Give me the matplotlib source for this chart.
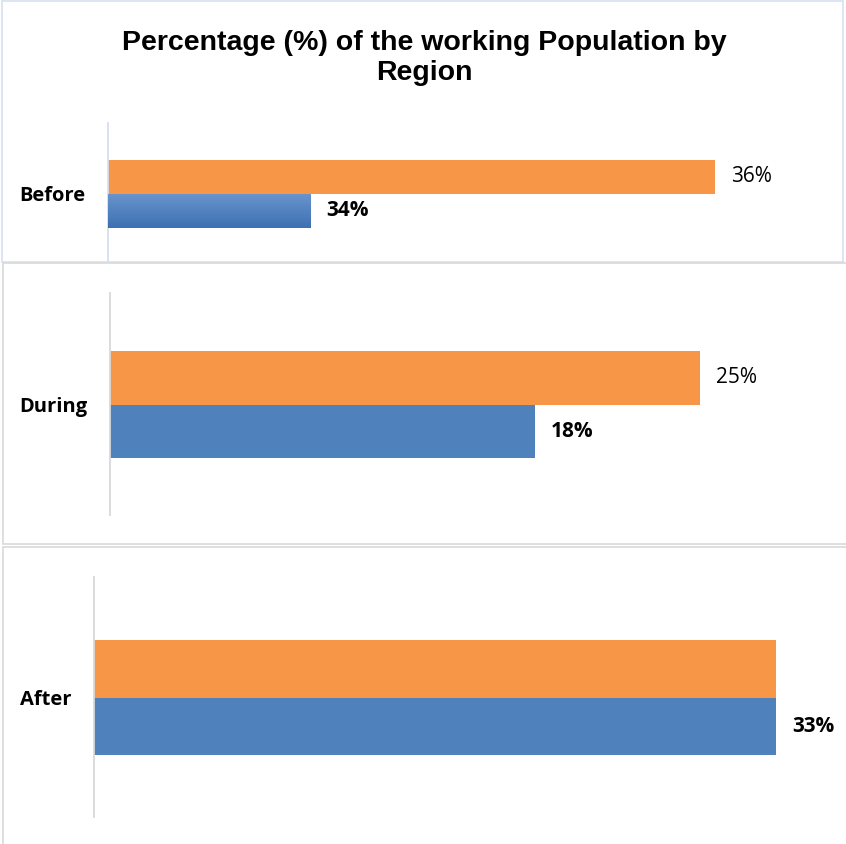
import matplotlib.pyplot as plt
from matplotlib.patches import Rectangle
from matplotlib.colors import LinearSegmentedColormap
import numpy as np

title = 'Percentage (%) of the working Population by\nRegion'
periods = ['Before', 'During', 'After']

# bar lengths as drawn in each panel (each panel has its own scale)
orange_lengths = [36, 25, 33]
blue_lengths = [12, 18, 33]
# data labels as printed on the chart ('' = no label)
orange_labels = ['36%', '25%', '']
blue_labels = ['34%', '18%', '33%']

ORANGE = '#F79646'
BLUE = '#4F81BD'
W, H = 846, 844
LABEL_FONT = ['Open Sans', 'DejaVu Sans']

fig = plt.figure(figsize=(W / 100, H / 100), dpi=100)


def frame(x0, y0, x1, y1, color):
    r = Rectangle((x0 / W, 1 - y1 / H), (x1 - x0) / W, (y1 - y0) / H,
                  transform=fig.transFigure, facecolor='white',
                  edgecolor=color, linewidth=1.2, zorder=-1)
    fig.patches.append(r)


frame(2, 1, 843, 262, '#d6e0ef')
frame(3, 263, 848, 544, '#d9d9d9')
frame(3, 547, 848, 848, '#d9d9d9')

fig.text(424 / W, 1 - 58 / H, title, ha='center', va='center',
         fontsize=20.5, fontweight='bold', family='Liberation Sans',
         linespacing=1.2)

# panel layout in pixels: left, right, top, bottom, xmax, ylim, axis color
panels = [
    (108, 843, 123, 262, 43.59, (-1.5, 2.588), '#d6e0ef'),
    (110, 845, 293, 515, 31.14, (-1.565, 2.585), '#d9d9d9'),
    (94, 845, 577, 817, 36.34, (-1.578, 2.596), '#d9d9d9'),
]

grad = LinearSegmentedColormap.from_list('g', ['#3d70b2', '#6a95ce'])

for i, (l, r, t, b, xmax, ylim, axcol) in enumerate(panels):
    ax = fig.add_axes([l / W, 1 - b / H, (r - l) / W, (b - t) / H])
    ax.set_facecolor('none')
    ob = ax.barh([1], [orange_lengths[i]], height=1.0, color=ORANGE)
    bb = ax.barh([0], [blue_lengths[i]], height=1.0, color=BLUE)
    if i == 0:
        g = np.linspace(0, 1, 100).reshape(-1, 1)
        im = ax.imshow(g, cmap=grad, origin='lower', aspect='auto',
                       extent=[0, blue_lengths[i], -0.5, 0.5], zorder=3)
        im.set_clip_path(bb.patches[0])
    ax.set_xlim(0, xmax)
    ax.set_ylim(*ylim)
    for sp in ['top', 'right', 'bottom']:
        ax.spines[sp].set_visible(False)
    ax.spines['left'].set_color(axcol)
    ax.spines['left'].set_linewidth(1.3)
    ax.set_xticks([])
    ax.set_yticks([0.5])
    ax.set_yticklabels([periods[i]], fontsize=14.5, fontweight='bold',
                       family=LABEL_FONT)
    ax.tick_params(axis='y', length=0, pad=16)
    if orange_labels[i]:
        ax.annotate(orange_labels[i], (orange_lengths[i], 1),
                    xytext=(11.5, 0), textcoords='offset points',
                    va='center', ha='left', fontsize=15, family=LABEL_FONT)
    if blue_labels[i]:
        ax.annotate(blue_labels[i], (blue_lengths[i], 0),
                    xytext=(11.5, 0), textcoords='offset points',
                    va='center', ha='left', fontsize=15,
                    fontweight='bold', family=LABEL_FONT)

fig.savefig('out.png', dpi=100)
